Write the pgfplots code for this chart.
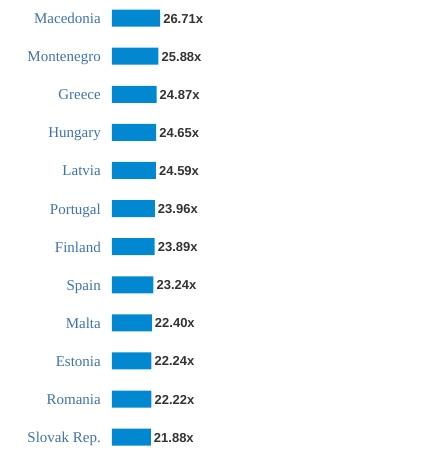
\documentclass[border=0pt]{standalone}
\usepackage{pgfplots}
\pgfplotsset{compat=1.18}
\usepackage{pgfplotstable}
\usepackage{fontspec}
\setmainfont{Liberation Serif}
\newfontfamily\valfont{Liberation Sans}
\definecolor{barblue}{HTML}{0288D1}
\definecolor{labblue}{HTML}{3F72AF}
\definecolor{valgray}{HTML}{333333}
\pgfplotstableread{
idx value
0 26.71
1 25.88
2 24.87
3 24.65
4 24.59
5 23.96
6 23.89
7 23.24
8 22.40
9 22.24
10 22.22
11 21.88
}\datatable
\begin{document}
\begin{tikzpicture}
\begin{axis}[
  at={(0,0)}, anchor=south west,
  scale only axis,
  width=300pt, height=457.2pt,
  xmin=1.8, xmax=157.2,
  ymin=-0.5, ymax=11.5,
  y dir=reverse,
  axis line style={draw=none},
  xtick=\empty,
  ytick={0,...,11},
  yticklabels={Macedonia,Montenegro,Greece,Hungary,Latvia,Portugal,Finland,Spain,Malta,Estonia,Romania,Slovak Rep.},
  major tick length=0pt,
  yticklabel style={font=\fontsize{15}{17}\selectfont, text=labblue, anchor=base east, inner sep=0pt, yshift=-5.5pt},
  yticklabel shift=11pt,
  xbar, bar width=17pt, bar shift=0pt,
  clip=false,
  /pgf/number format/assume math mode=true,
  point meta=x,
  nodes near coords={\pgfmathprintnumber[fixed,fixed zerofill,precision=2]{\pgfplotspointmeta}x},
  nodes near coords style={font=\valfont\bfseries\fontsize{13}{15}\selectfont, text=valgray, anchor=base west, inner sep=0pt, xshift=3pt, yshift=-5pt},
]
\addplot[draw=none, fill=barblue] table[x=value, y=idx] {\datatable};
\end{axis}
\pgfresetboundingbox
\path (-112pt,-2.8pt) rectangle (332pt,456.2pt);
\end{tikzpicture}
\end{document}
